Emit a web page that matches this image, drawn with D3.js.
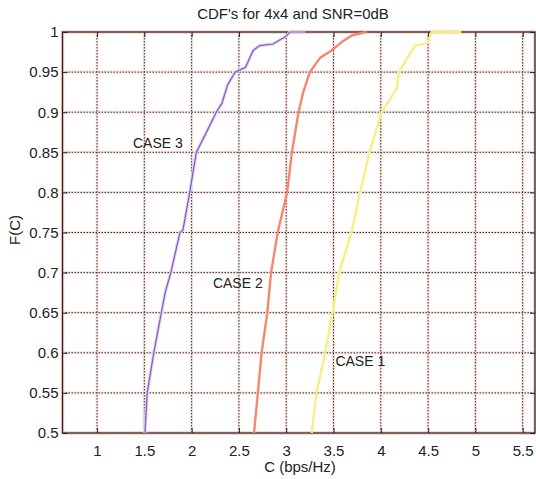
<!DOCTYPE html>
<html lang="en">
<head>
<meta charset="UTF-8">
<title>CDF's for 4x4 and SNR=0dB</title>
<script src="https://d3js.org/d3.v7.min.js"></script>
<style>
  body { margin: 0; background: #fff; }
  text { font-family: Arial, "Liberation Sans", sans-serif; fill: #222; }
</style>
</head>
<body>
<div id="chart"></div>
<script>
// capacity values (bps/Hz), with their CDF levels
const case3C = [1.507, 1.53, 1.60, 1.68, 1.72, 1.78, 1.877, 1.908, 1.98, 2.05, 2.14, 2.26, 2.32, 2.38, 2.46, 2.57, 2.65, 2.72, 2.86, 2.99, 3.04, 3.20];
const case3F = [0.5, 0.55, 0.6, 0.65, 0.675, 0.7, 0.75, 0.753, 0.8, 0.85, 0.871, 0.9, 0.911, 0.934, 0.95, 0.956, 0.977, 0.983, 0.985, 0.994, 1.0, 1.0];

const case2C = [2.66, 2.70, 2.74, 2.80, 2.84, 2.91, 3.01, 3.06, 3.13, 3.18, 3.25, 3.36, 3.48, 3.59, 3.70, 3.85];
const case2F = [0.5, 0.55, 0.6, 0.65, 0.7, 0.75, 0.8, 0.85, 0.9, 0.925, 0.95, 0.968, 0.977, 0.988, 0.996, 1.0];

const case1C = [3.27, 3.32, 3.41, 3.49, 3.56, 3.69, 3.78, 3.88, 4.01, 4.17, 4.19, 4.36, 4.49, 4.54, 4.85];
const case1F = [0.5, 0.55, 0.6, 0.65, 0.7, 0.75, 0.8, 0.85, 0.9, 0.93, 0.95, 0.983, 0.986, 1.0, 1.0];

const xTicks = [1, 1.5, 2, 2.5, 3, 3.5, 4, 4.5, 5, 5.5];
const yTicks = [0.5, 0.55, 0.6, 0.65, 0.7, 0.75, 0.8, 0.85, 0.9, 0.95, 1];

const width = 536, height = 479;
const plotL = 62.5, plotR = 535, plotT = 32, plotB = 433;

const svg = d3.select("#chart").append("svg")
    .attr("width", width)
    .attr("height", height);

const x = d3.scaleLinear().domain([0.635, 5.63]).range([plotL, plotR]);
const y = d3.scaleLinear().domain([0.5, 1]).range([plotB, plotT]);

// grid, dotted with the faint pink fringe of the original
const grid = svg.append("g").attr("class", "grid");
[["#fbe6df", 3, null], ["#333", 1, "1.5,1.5"]].forEach(([col, w, dash]) => {
    grid.append("g").selectAll("line")
        .data(xTicks)
        .join("line")
        .attr("x1", d => x(d)).attr("x2", d => x(d))
        .attr("y1", plotT).attr("y2", plotB)
        .attr("stroke", col).attr("stroke-width", w)
        .attr("stroke-dasharray", dash);
    grid.append("g").selectAll("line")
        .data(yTicks.slice(1, -1))
        .join("line")
        .attr("y1", d => y(d)).attr("y2", d => y(d))
        .attr("x1", plotL).attr("x2", plotR)
        .attr("stroke", col).attr("stroke-width", w)
        .attr("stroke-dasharray", dash);
});

// axes box
svg.append("rect")
    .attr("x", plotL).attr("y", plotT)
    .attr("width", plotR - plotL).attr("height", plotB - plotT)
    .attr("fill", "none")
    .attr("stroke", "#f5cdc2").attr("stroke-width", 3.5);
svg.append("rect")
    .attr("x", plotL).attr("y", plotT)
    .attr("width", plotR - plotL).attr("height", plotB - plotT)
    .attr("fill", "none")
    .attr("stroke", "#222").attr("stroke-width", 1.2);

const fmt = d => String(d);

const xAxis = svg.append("g")
    .attr("transform", `translate(0,${plotB})`)
    .call(d3.axisBottom(x).tickValues(xTicks).tickFormat(fmt).tickSize(-5).tickPadding(12));
const xTop = svg.append("g")
    .attr("transform", `translate(0,${plotT})`)
    .call(d3.axisTop(x).tickValues(xTicks).tickFormat("").tickSize(-5));
const yAxis = svg.append("g")
    .attr("transform", `translate(${plotL},0)`)
    .call(d3.axisLeft(y).tickValues(yTicks).tickFormat(fmt).tickSize(-5).tickPadding(4));
const yRight = svg.append("g")
    .attr("transform", `translate(${plotR},0)`)
    .call(d3.axisRight(y).tickValues(yTicks).tickFormat("").tickSize(-5));

[xAxis, xTop, yAxis, yRight].forEach(g => {
    g.select(".domain").remove();
    g.selectAll(".tick line").attr("stroke", "#222");
    g.selectAll(".tick text")
        .attr("font-size", 15)
        .attr("font-family", "Arial, 'Liberation Sans', sans-serif")
        .attr("fill", "#222");
});

// curves, drawn over the box like the original
const series = [
    { c: case3C, f: case3F, color: "#5a6ae0", halo: true },
    { c: case2C, f: case2F, color: "#f7866f", halo: false },
    { c: case1C, f: case1F, color: "#f6ef84", halo: false }
];

const line = d3.line()
    .x(d => x(d[0]))
    .y(d => y(d[1]));

series.forEach(s => {
    const pts = s.c.map((v, i) => [v, s.f[i]]);
    if (s.halo) {
        svg.append("path")
            .datum(pts)
            .attr("d", line)
            .attr("fill", "none")
            .attr("stroke", "#f7cbd6")
            .attr("stroke-width", 3.2);
    }
    svg.append("path")
        .datum(pts)
        .attr("d", line)
        .attr("fill", "none")
        .attr("stroke", s.color)
        .attr("stroke-width", s.halo ? 1.2 : 2.4);
});

// titles
svg.append("text")
    .attr("x", 293).attr("y", 19)
    .attr("text-anchor", "middle")
    .attr("font-size", 15)
    .text("CDF's for 4x4 and SNR=0dB");

svg.append("text")
    .attr("x", 300).attr("y", 472)
    .attr("text-anchor", "middle")
    .attr("font-size", 15)
    .text("C (bps/Hz)");

svg.append("text")
    .attr("transform", "translate(20,230) rotate(-90)")
    .attr("text-anchor", "middle")
    .attr("font-size", 15)
    .text("F(C)");

// case labels
const caseLabels = [
    { text: "CASE 3", c: 1.38, f: 0.862 },
    { text: "CASE 2", c: 2.225, f: 0.687 },
    { text: "CASE 1", c: 3.52, f: 0.59 }
];
svg.append("g").selectAll("text")
    .data(caseLabels)
    .join("text")
    .attr("x", d => x(d.c))
    .attr("y", d => y(d.f))
    .attr("dy", "0.36em")
    .attr("font-size", 14)
    .text(d => d.text);
</script>
</body>
</html>
